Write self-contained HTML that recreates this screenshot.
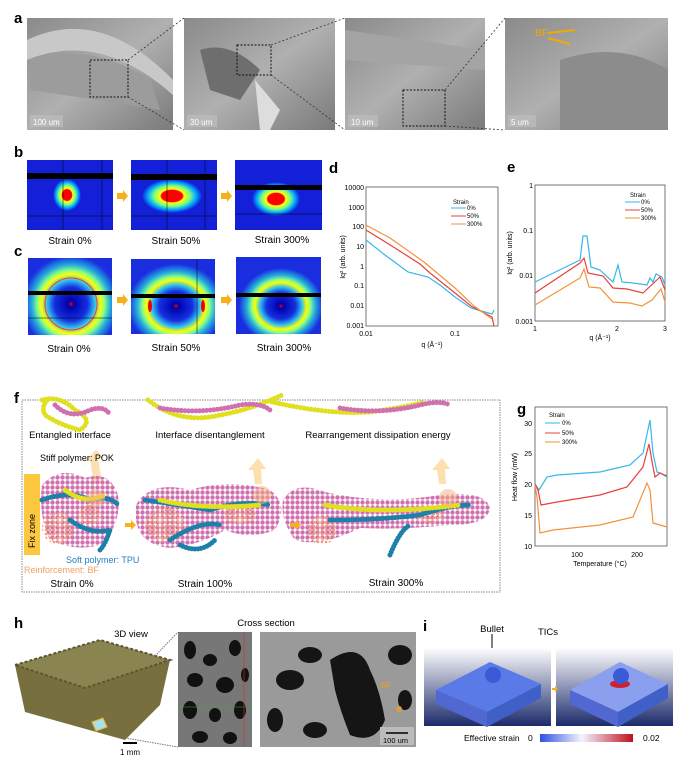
<!DOCTYPE html>
<html><head><meta charset="utf-8"><style>
html,body{margin:0;padding:0;background:#fff}
svg{display:block;font-family:"Liberation Sans",sans-serif}
</style></head><body>
<svg width="693" height="767" viewBox="0 0 693 767" xmlns="http://www.w3.org/2000/svg">
<defs>
<linearGradient id="sem" x1="0" y1="0" x2="1" y2="1"><stop offset="0" stop-color="#8a8a8a"/><stop offset="0.5" stop-color="#b0b0b0"/><stop offset="1" stop-color="#7a7a7a"/></linearGradient>
<radialGradient id="saxs1"><stop offset="0.35" stop-color="#f00"/><stop offset="0.4" stop-color="#ff0"/><stop offset="0.6" stop-color="#7fff80"/><stop offset="0.8" stop-color="#0af"/><stop offset="1" stop-color="#1420d8"/></radialGradient>
<radialGradient id="waxs"><stop offset="0" stop-color="#f00"/><stop offset="0.06" stop-color="#00a"/><stop offset="0.35" stop-color="#1530e0"/><stop offset="0.5" stop-color="#30c0f0"/><stop offset="0.62" stop-color="#ff0"/><stop offset="0.7" stop-color="#8f8"/><stop offset="0.82" stop-color="#2ad"/><stop offset="1" stop-color="#1a2ee0"/></radialGradient>
<linearGradient id="ibg" x1="0" y1="0" x2="0" y2="1"><stop offset="0" stop-color="#fff"/><stop offset="1" stop-color="#1c2a6a"/></linearGradient>
<linearGradient id="cb" x1="0" x2="1"><stop offset="0" stop-color="#3050e0"/><stop offset="0.45" stop-color="#f4f4ff"/><stop offset="1" stop-color="#c01020"/></linearGradient>
<pattern id="pk" width="5" height="5" patternUnits="userSpaceOnUse"><rect width="5" height="5" fill="#fff" opacity="0"/><circle cx="2.5" cy="2.5" r="2.2" fill="#d070b0"/></pattern>
<pattern id="bf" width="4" height="4" patternUnits="userSpaceOnUse"><circle cx="2" cy="2" r="1.3" fill="#f5a070"/></pattern>
<clipPath id="c1"><rect x="28" y="258" width="84" height="77"/></clipPath>
<clipPath id="c2"><rect x="131" y="259" width="84" height="75"/></clipPath>
<clipPath id="c3"><rect x="236" y="257" width="85" height="77"/></clipPath>
</defs>
<g font-weight="bold" font-size="15">
<text x="14" y="23">a</text><text x="14" y="157">b</text><text x="14" y="256">c</text><text x="329" y="173">d</text><text x="507" y="172">e</text><text x="14" y="403">f</text><text x="517" y="414">g</text><text x="14" y="628">h</text><text x="423" y="631">i</text>
</g>
<!-- a -->
<g>
<rect x="27" y="18" width="146" height="112" fill="url(#sem)"/>
<path d="M27 40 Q100 5 173 80 L173 95 Q100 30 27 60Z" fill="#c8c8c8"/>
<path d="M30 60 Q90 40 150 80 L160 110 Q100 100 30 90Z" fill="#9c9c9c"/>
<rect x="90" y="60" width="38" height="37" fill="none" stroke="#111" stroke-dasharray="2 1.5"/>
<rect x="30" y="115" width="33" height="12" fill="#bbb" opacity=".8"/><text x="33" y="125" font-size="8" fill="#fff">100 um</text>
<rect x="184" y="18" width="151" height="112" fill="url(#sem)"/>
<path d="M200 50 Q230 40 260 70 L240 100 L210 90Z" fill="#6e6e6e"/>
<path d="M255 80 L280 110 L270 130 L260 130Z" fill="#ddd"/>
<rect x="237" y="45" width="34" height="30" fill="none" stroke="#111" stroke-dasharray="2 1.5"/>
<rect x="187" y="115" width="30" height="12" fill="#bbb" opacity=".8"/><text x="190" y="125" font-size="8" fill="#fff">30 um</text>
<rect x="345" y="18" width="140" height="112" fill="url(#sem)"/>
<path d="M345 30 L485 50 L485 70 L345 60Z" fill="#a4a4a4"/>
<rect x="403" y="90" width="42" height="36" fill="none" stroke="#111" stroke-dasharray="2 1.5"/>
<rect x="348" y="115" width="30" height="12" fill="#bbb" opacity=".8"/><text x="351" y="125" font-size="8" fill="#fff">10 um</text>
<rect x="505" y="18" width="163" height="112" fill="url(#sem)"/>
<path d="M560 60 Q620 40 668 70 L668 130 L560 130Z" fill="#8c8c8c"/>
<text x="535" y="36" font-size="10" fill="#f5a800">BF</text>
<path d="M548 33 L575 30 M548 38 L570 44" stroke="#f5a800" stroke-width="2"/>
<rect x="508" y="115" width="28" height="12" fill="#bbb" opacity=".8"/><text x="511" y="125" font-size="8" fill="#fff">5 um</text>
<g stroke="#333" stroke-dasharray="2 2" stroke-width=".8" fill="none">
<path d="M128 60 L184 18 M128 97 L184 130 M271 45 L345 18 M271 75 L345 130 M445 90 L505 18 M445 126 L505 130"/></g>
</g>
<!-- b -->
<g>
<rect x="27" y="160" width="86" height="70" fill="#1420d8"/><ellipse cx="67" cy="195" rx="14" ry="16" fill="url(#saxs1)"/>
<rect x="27" y="173" width="86" height="6" fill="#000"/><path d="M63 160V230M102 160V230M27 216H113" stroke="#000" stroke-width=".5"/>
<rect x="131" y="160" width="86" height="70" fill="#1420d8"/><ellipse cx="172" cy="196" rx="30" ry="17" fill="url(#saxs1)"/>
<rect x="131" y="174" width="86" height="6" fill="#000"/><path d="M167 160V230M205 160V230M131 216H217" stroke="#000" stroke-width=".5"/>
<rect x="235" y="160" width="87" height="70" fill="#1420d8"/><ellipse cx="276" cy="199" rx="24" ry="17" fill="url(#saxs1)"/>
<rect x="235" y="185" width="87" height="5" fill="#000"/><path d="M235 214H322" stroke="#000" stroke-width=".5"/>
<path d="M117 193h6v-3l5 6-5 6v-3h-6z M221 193h6v-3l5 6-5 6v-3h-6z" fill="#f7b01a"/>
<g font-size="10" text-anchor="middle"><text x="70" y="244">Strain 0%</text><text x="176" y="244">Strain 50%</text><text x="282" y="243">Strain 300%</text></g>
</g>
<!-- c -->
<g>
<g clip-path="url(#c1)"><rect x="28" y="258" width="84" height="77" fill="#1a2ee0"/><circle cx="71" cy="304" r="48" fill="url(#waxs)"/>
<circle cx="71" cy="304" r="26" fill="none" stroke="#f33" stroke-width="1"/>
<rect x="28" y="291" width="84" height="4" fill="#000"/><path d="M28 318H112" stroke="#000" stroke-width=".5"/></g>
<g clip-path="url(#c2)"><rect x="131" y="259" width="84" height="75" fill="#1a2ee0"/><ellipse cx="176" cy="306" rx="48" ry="42" fill="url(#waxs)"/>
<ellipse cx="150" cy="306" rx="2" ry="6" fill="#e00"/><ellipse cx="203" cy="306" rx="2" ry="6" fill="#e00"/>
<rect x="131" y="294" width="84" height="4" fill="#000"/><path d="M197 259V334" stroke="#000" stroke-width=".5"/></g>
<g clip-path="url(#c3)"><rect x="236" y="257" width="85" height="77" fill="#1a2ee0"/><ellipse cx="281" cy="306" rx="42" ry="38" fill="url(#waxs)"/>
<rect x="236" y="293" width="85" height="4" fill="#000"/></g>
<path d="M117 297h6v-3l5 6-5 6v-3h-6z M221 297h6v-3l5 6-5 6v-3h-6z" fill="#f7b01a"/>
<g font-size="10" text-anchor="middle"><text x="69" y="352">Strain 0%</text><text x="176" y="351">Strain 50%</text><text x="284" y="351">Strain 300%</text></g>
</g>
<!-- d chart -->
<g font-size="7">
<rect x="366" y="187" width="132" height="139" fill="none" stroke="#555" stroke-width=".8"/>
<g text-anchor="end"><text x="364" y="190">10000</text><text x="364" y="210">1000</text><text x="364" y="229">100</text><text x="364" y="249">10</text><text x="364" y="269">1</text><text x="364" y="288">0.1</text><text x="364" y="308">0.01</text><text x="364" y="328">0.001</text></g>
<text x="366" y="336" text-anchor="middle">0.01</text><text x="455" y="336" text-anchor="middle">0.1</text>
<text x="432" y="347" text-anchor="middle">q (Å⁻¹)</text>
<text transform="translate(345 257) rotate(-90)" text-anchor="middle">Iq² (arb. units)</text>
<path d="M366 240 L385 255 L400 266 L408 272 L428 277 L440 285 L455 297 L471 308 L492 314 L494 310" fill="none" stroke="#38b6ea" stroke-width="1.2"/>
<path d="M366 230 L395 248 L420 264 L430 273 L455 293 L471 306 L492 317 L494 326" fill="none" stroke="#e8403a" stroke-width="1.2"/>
<path d="M366 225 L390 238 L424 262 L455 288 L474 306 L492 319" fill="none" stroke="#f3923a" stroke-width="1.2"/>
<text x="453" y="204" font-size="6">Strain</text>
<path d="M451 208h15" stroke="#38b6ea"/><path d="M451 216h15" stroke="#e8403a"/><path d="M451 224h15" stroke="#f3923a"/>
<text x="467" y="210" font-size="6">0%</text><text x="467" y="218" font-size="6">50%</text><text x="467" y="226" font-size="6">300%</text>
</g>
<!-- e chart -->
<g font-size="7">
<rect x="535" y="185" width="130" height="136" fill="none" stroke="#555" stroke-width=".8"/>
<g text-anchor="end"><text x="533" y="188">1</text><text x="533" y="233">0.1</text><text x="533" y="278">0.01</text><text x="533" y="324">0.001</text></g>
<text x="535" y="331" text-anchor="middle">1</text><text x="617" y="331" text-anchor="middle">2</text><text x="665" y="331" text-anchor="middle">3</text>
<text x="600" y="340" text-anchor="middle">q (Å⁻¹)</text>
<text transform="translate(512 253) rotate(-90)" text-anchor="middle">Iq² (arb. units)</text>
<path d="M535 282 L580 260 L583 236 L587 236 L591 267 L600 270 L603 273 L613 282 L618 265 L622 282 L633 283 L647 285 L650 278 L653 282 L656 274 L662 277 L665 285" fill="none" stroke="#38b6ea" stroke-width="1.2"/>
<path d="M535 293 L580 263 L584 258 L588 273 L603 276 L613 288 L627 289 L643 293 L660 277 L665 290" fill="none" stroke="#e8403a" stroke-width="1.2"/>
<path d="M535 305 L580 278 L584 269 L589 287 L600 288 L613 302 L630 303 L642 306 L652 300 L661 289 L665 302" fill="none" stroke="#f3923a" stroke-width="1.2"/>
<text x="630" y="197" font-size="6">Strain</text>
<path d="M625 202h15" stroke="#38b6ea"/><path d="M625 210h15" stroke="#e8403a"/><path d="M625 218h15" stroke="#f3923a"/>
<text x="641" y="204" font-size="6">0%</text><text x="641" y="212" font-size="6">50%</text><text x="641" y="220" font-size="6">300%</text>
</g>
<!-- f -->
<g>
<rect x="22" y="400" width="478" height="192" fill="none" stroke="#888" stroke-dasharray="1.5 1"/>
<g font-size="9.5" text-anchor="middle"><text x="70" y="438">Entangled interface</text><text x="210" y="438">Interface disentanglement</text><text x="378" y="438">Rearrangement dissipation energy</text></g>
<path d="M94 484 L90 460 L84 462 L96 450 L104 458 L98 458 L102 482Z M255 484 L253 470 L248 470 L258 458 L266 469 L261 469 L262 484Z M439 484 L437 470 L432 470 L442 458 L450 469 L445 469 L446 484Z" fill="#fce0b0"/>
<rect x="24" y="474" width="16" height="81" fill="#fdc740"/>
<text transform="translate(35 548) rotate(-90)" font-size="9">Fix zone</text>
<!-- blobs -->
<path d="M42 485 Q60 465 85 478 Q110 470 118 495 Q122 525 100 545 Q75 552 50 540 Q38 515 42 485Z" fill="url(#pk)"/>
<path d="M136 505 Q150 480 190 490 Q230 478 270 490 Q290 505 275 530 Q250 540 225 530 Q200 545 170 548 Q140 545 136 520Z" fill="url(#pk)"/>
<path d="M283 500 Q295 480 325 492 Q380 505 440 495 Q485 490 490 508 Q488 525 450 525 Q400 530 360 528 Q320 548 295 540 Q280 520 283 500Z" fill="url(#pk)"/>
<ellipse cx="58" cy="528" rx="16" ry="16" fill="url(#bf)"/><ellipse cx="90" cy="515" rx="12" ry="10" fill="url(#bf)"/>
<ellipse cx="165" cy="525" rx="20" ry="17" fill="url(#bf)"/><ellipse cx="240" cy="515" rx="16" ry="10" fill="url(#bf)"/>
<ellipse cx="322" cy="530" rx="14" ry="15" fill="url(#bf)"/><ellipse cx="430" cy="515" rx="14" ry="8" fill="url(#bf)"/>
<g fill="none" stroke-linecap="round" stroke-width="5" stroke-dasharray="0.1 3.5">
<path d="M42 400 Q60 395 75 410 Q95 420 80 430 Q60 425 45 415 Q40 405 50 398" stroke="#e0e020"/>
<path d="M55 405 Q70 420 90 410 Q105 405 110 415" stroke="#d070b0"/>
<path d="M148 400 Q180 425 220 415 Q250 410 282 395" stroke="#e0e020"/>
<path d="M160 408 Q200 415 240 405 Q260 402 270 410" stroke="#d070b0"/>
<path d="M272 402 Q330 415 370 412 Q400 408 425 402" stroke="#e0e020"/>
<path d="M340 408 Q380 415 420 405 Q440 400 450 405" stroke="#d070b0"/>
</g>
<g fill="none" stroke-linecap="round" stroke-width="5" stroke-dasharray="0.1 3">
<path d="M42 500 Q70 490 90 500 Q110 495 118 505 M70 520 Q90 535 110 530 Q105 545 100 550" stroke="#1e80a8"/>
<path d="M65 490 Q85 505 105 495" stroke="#e0e020"/>
<path d="M145 500 Q180 505 210 510 Q240 500 270 505 M170 540 Q200 520 220 525 M180 545 Q200 555 215 540" stroke="#1e80a8"/>
<path d="M160 500 Q200 510 260 505" stroke="#e0e020"/>
<path d="M330 520 Q380 520 420 515 Q450 505 470 505 M390 555 Q400 530 410 525" stroke="#1e80a8"/>
<path d="M325 505 Q380 515 460 505" stroke="#e0e020"/>
</g>
<ellipse cx="96" cy="498" rx="9" ry="9" fill="#f8b080" opacity=".5"/><ellipse cx="262" cy="495" rx="9" ry="9" fill="#f8b080" opacity=".5"/><ellipse cx="448" cy="498" rx="9" ry="9" fill="#f8b080" opacity=".5"/>
<path d="M125 523h6v-3l5 5-5 5v-3h-6z M290 523h6v-3l5 5-5 5v-3h-6z" fill="#f7b01a"/>
<g font-size="9"><text x="40" y="461">Stiff polymer: POK</text><text x="66" y="563" fill="#2080c0">Soft polymer: TPU</text><text x="24" y="573" fill="#f3a060">Reinforcement: BF</text></g>
<g font-size="10" text-anchor="middle"><text x="72" y="587">Strain 0%</text><text x="205" y="587">Strain 100%</text><text x="396" y="586">Strain 300%</text></g>
</g>
<!-- g chart -->
<g font-size="7">
<rect x="535" y="407" width="132" height="139" fill="none" stroke="#555" stroke-width=".8"/>
<g text-anchor="end"><text x="532" y="426">30</text><text x="532" y="456">25</text><text x="532" y="487">20</text><text x="532" y="518">15</text><text x="532" y="549">10</text></g>
<text x="577" y="557" text-anchor="middle">100</text><text x="637" y="557" text-anchor="middle">200</text>
<text x="600" y="566" text-anchor="middle">Temperature (°C)</text>
<text transform="translate(517 477) rotate(-90)" text-anchor="middle">Heat flow (mW)</text>
<path d="M535 484 L539 490 L547 477 L557 475 L600 472 L630 465 L643 453 L650 420 L653 453 L657 472 L660 473 L667 477" fill="none" stroke="#38b6ea" stroke-width="1.2"/>
<path d="M535 484 L538 490 L541 505 L557 502 L600 495 L627 487 L643 467 L649 444 L653 467 L655 477 L660 473 L667 476" fill="none" stroke="#e8403a" stroke-width="1.2"/>
<path d="M535 485 L537 497 L540 533 L553 530 L600 525 L633 517 L647 483 L650 490 L653 523 L667 527" fill="none" stroke="#f3923a" stroke-width="1.2"/>
<text x="549" y="417" font-size="6">Strain</text>
<path d="M545 423h15" stroke="#38b6ea"/><path d="M545 433h15" stroke="#e8403a"/><path d="M545 442h15" stroke="#f3923a"/>
<text x="562" y="425" font-size="6">0%</text><text x="562" y="435" font-size="6">50%</text><text x="562" y="444" font-size="6">300%</text>
</g>
<!-- h -->
<g>
<text x="131" y="637" font-size="9.5" text-anchor="middle">3D view</text>
<text x="266" y="626" font-size="9.5" text-anchor="middle">Cross section</text>
<polygon points="15,665 100,640 170,660 160,705 125,740 25,712" fill="#77703e"/>
<polygon points="15,665 100,640 170,660 85,688" fill="#8a8450" stroke="#5c5630" stroke-dasharray="3 2" stroke-width="2"/>
<polygon points="92,722 103,718 107,727 96,731" fill="#a8e0ee" stroke="#f0b020"/>
<path d="M123 743h14" stroke="#000" stroke-width="2"/><text x="130" y="755" font-size="8" text-anchor="middle">1 mm</text>
<path d="M155 656 L178 632 M125 738 L178 747" stroke="#777" stroke-dasharray="1.5 1"/>
<rect x="178" y="632" width="74" height="115" fill="#777"/>
<g fill="#111"><ellipse cx="190" cy="650" rx="6" ry="9"/><ellipse cx="210" cy="660" rx="7" ry="6"/><ellipse cx="235" cy="648" rx="6" ry="8"/><ellipse cx="195" cy="680" rx="8" ry="7"/><ellipse cx="225" cy="685" rx="9" ry="8"/><ellipse cx="245" cy="675" rx="4" ry="7"/><ellipse cx="190" cy="710" rx="7" ry="9"/><ellipse cx="215" cy="715" rx="6" ry="7"/><ellipse cx="240" cy="710" rx="6" ry="9"/><ellipse cx="200" cy="737" rx="8" ry="6"/><ellipse cx="230" cy="738" rx="7" ry="6"/></g>
<path d="M178 707H252" stroke="#3a3" stroke-width=".6"/><path d="M244 632V747" stroke="#c33" stroke-width=".6"/>
<rect x="260" y="632" width="156" height="115" fill="#9a9a9a"/>
<g fill="#151515"><path d="M330 660 Q360 640 370 670 Q380 690 385 720 Q375 745 350 735 Q340 710 335 690Z"/><ellipse cx="290" cy="680" rx="14" ry="10"/><ellipse cx="310" cy="655" rx="12" ry="8"/><ellipse cx="400" cy="655" rx="12" ry="10"/><ellipse cx="275" cy="720" rx="8" ry="12"/><ellipse cx="315" cy="730" rx="12" ry="8"/><ellipse cx="405" cy="700" rx="7" ry="10"/></g>
<circle cx="399" cy="709" r="3" fill="#d8a040"/>
<text x="381" y="688" font-size="8" fill="#f0a020">BF</text>
<rect x="380" y="727" width="34" height="18" fill="#bbb"/><path d="M386 733h22" stroke="#000" stroke-width="1.5"/><text x="383" y="743" font-size="7.5">100 um</text>
</g>
<!-- i -->
<g>
<text x="492" y="632" font-size="9.5" text-anchor="middle">Bullet</text><text x="548" y="635" font-size="9.5" text-anchor="middle">TICs</text>
<path d="M492 634V654" stroke="#000"/><path d="M488 650l4 6 4-6z" fill="#000"/>
<rect x="424" y="648" width="127" height="78" fill="url(#ibg)"/>
<rect x="556" y="648" width="117" height="78" fill="url(#ibg)"/>
<polygon points="436,690 490,662 541,684 487,712" fill="#5a7ae8"/><polygon points="436,690 487,712 487,727 436,704" fill="#5068d0"/><polygon points="487,712 541,684 541,698 487,727" fill="#4060c8"/>
<circle cx="493" cy="675" r="8" fill="#3a5ad8"/>
<polygon points="570,690 620,662 668,684 618,712" fill="#8aa0ee"/><polygon points="570,690 618,712 618,727 570,704" fill="#5068d0"/><polygon points="618,712 668,684 668,698 618,727" fill="#4060c8"/>
<ellipse cx="620" cy="684" rx="10" ry="4" fill="#d02030"/><circle cx="621" cy="676" r="8" fill="#3a5ad8"/>
<path d="M552 688h3v-2l3 3-3 3v-2h-3z" fill="#f7b01a"/>
<text x="464" y="741" font-size="8.5">Effective strain</text><text x="528" y="741" font-size="8.5">0</text>
<rect x="540" y="734" width="93" height="8" fill="url(#cb)"/><text x="643" y="741" font-size="8.5">0.02</text>
</g>
</svg>
</body></html>
